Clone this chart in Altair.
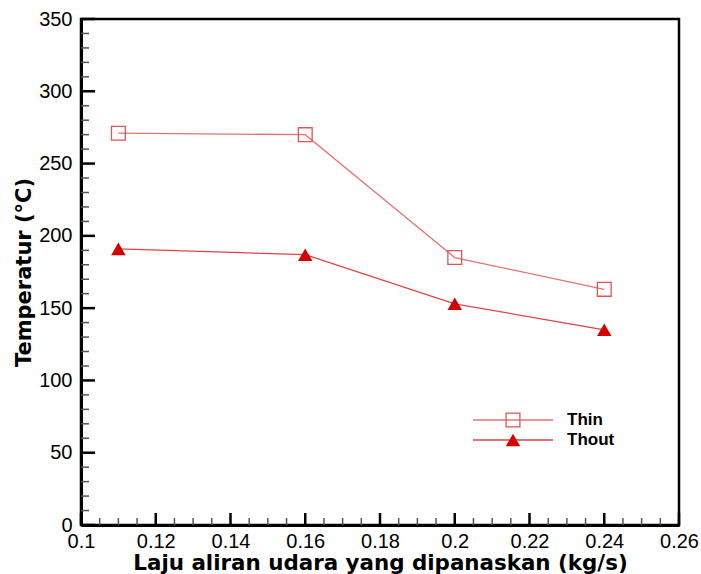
import altair as alt
import pandas as pd

# ---- data ----
flow = [0.11, 0.16, 0.20, 0.24]
thin = [271, 270, 185, 163]
thout = [191, 187, 153, 135]
series_names = ["Thin", "Thout"]

x_major_ticks = [0.10, 0.12, 0.14, 0.16, 0.18, 0.20, 0.22, 0.24, 0.26]
x_minor_ticks = [0.105, 0.11, 0.115, 0.125, 0.13, 0.135, 0.145, 0.15, 0.155,
                 0.165, 0.17, 0.175, 0.185, 0.19, 0.195, 0.205, 0.21, 0.215,
                 0.225, 0.23, 0.235, 0.245, 0.25, 0.255]
y_major_ticks = [0, 50, 100, 150, 200, 250, 300, 350]
y_minor_ticks = [v for v in range(0, 351, 10) if v % 50 != 0]

x_title = "Laju aliran udara yang dipanaskan (kg/s)"
y_title = "Temperatur (°C)"

W, H = 598, 506
FONT = "Liberation Sans"
TFONT = "DejaVu Sans"

df = pd.DataFrame({
    "flow": flow * 2,
    "temp": thin + thout,
    "series": [series_names[0]] * len(flow) + [series_names[1]] * len(flow),
})
df_thin = df[df.series == "Thin"]
df_thout = df[df.series == "Thout"]

xs = alt.Scale(domain=[0.1, 0.26], nice=False, zero=False)
ys = alt.Scale(domain=[0, 350], nice=False)

x_axis = alt.Axis(values=x_major_ticks, format="~g", ticks=False, grid=False,
                  labelFontSize=20, labelFont=FONT, labelColor="black",
                  labelPadding=6, labelFlush=False, labelOverlap=False, labelBound=False,
                  domainColor="black", domainWidth=3,
                  title=x_title, titleFont=TFONT, titleFontSize=21.4, titleFontWeight="bold",
                  titleColor="black", titlePadding=1)
y_axis = alt.Axis(values=y_major_ticks, ticks=False, grid=False,
                  labelFontSize=20, labelFont=FONT, labelColor="black",
                  labelPadding=9, labelFlush=False, labelOverlap=False, labelBound=False,
                  domainColor="black", domainWidth=3,
                  title=y_title, titleFont=TFONT, titleFontSize=21, titleFontWeight="bold",
                  titleColor="black", titlePadding=4)

# axes carrier (invisible)
base = alt.Chart(df).mark_point(opacity=0).encode(
    x=alt.X("flow:Q", scale=xs, axis=x_axis),
    y=alt.Y("temp:Q", scale=ys, axis=y_axis),
)

# inward ticks
def xticks(vals, length, color, width):
    return alt.Chart(pd.DataFrame({"v": vals})).mark_rule(color=color, strokeWidth=width).encode(
        x=alt.X("v:Q", scale=xs), y=alt.value(H), y2=alt.value(H - length))

def yticks(vals, length, color, width):
    return alt.Chart(pd.DataFrame({"v": vals})).mark_rule(color=color, strokeWidth=width).encode(
        y=alt.Y("v:Q", scale=ys), x=alt.value(0), x2=alt.value(length))

tick_layers = [
    xticks(x_minor_ticks, 7, "#555555", 1.5),
    xticks(x_major_ticks, 12, "black", 2.5),
    yticks(y_minor_ticks, 8, "#555555", 1.5),
    yticks(y_major_ticks, 14, "black", 2.5),
]

thin_line = alt.Chart(df_thin).mark_line(color="#e57373", strokeWidth=1.3).encode(
    x=alt.X("flow:Q", scale=xs), y=alt.Y("temp:Q", scale=ys))
thin_pts = alt.Chart(df_thin).mark_point(shape="square", size=190, filled=False,
                                          color="#dd5555", strokeWidth=1.3, opacity=1).encode(
    x=alt.X("flow:Q", scale=xs), y=alt.Y("temp:Q", scale=ys))
thout_line = alt.Chart(df_thout).mark_line(color="#dd4444", strokeWidth=1.3).encode(
    x=alt.X("flow:Q", scale=xs), y=alt.Y("temp:Q", scale=ys))
thout_pts = alt.Chart(df_thout).mark_point(shape="triangle-up", size=210, filled=True,
                                            color="#d40000", opacity=1).encode(
    x=alt.X("flow:Q", scale=xs), y=alt.Y("temp:Q", scale=ys))

# legend (drawn in pixel space)
leg_rows = [401, 421]
leg_layers = []
leg_df = pd.DataFrame({"series": series_names})
for i, name in enumerate(series_names):
    d = leg_df[leg_df.series == name]
    col = "#e57373" if i == 0 else "#dd4444"
    leg_layers.append(alt.Chart(d).mark_rule(color=col, strokeWidth=1.3).encode(
        x=alt.value(392), x2=alt.value(472), y=alt.value(leg_rows[i])))
    if i == 0:
        leg_layers.append(alt.Chart(d).mark_point(shape="square", size=190, filled=False,
                                                 color="#dd5555", strokeWidth=1.3, opacity=1).encode(
            x=alt.value(432), y=alt.value(leg_rows[i])))
    else:
        leg_layers.append(alt.Chart(d).mark_point(shape="triangle-up", size=210, filled=True,
                                                 color="#d40000", opacity=1).encode(
            x=alt.value(432), y=alt.value(leg_rows[i])))
    leg_layers.append(alt.Chart(d).mark_text(align="left", baseline="middle", font=FONT,
                                            fontSize=17, fontWeight="bold", color="black").encode(
        x=alt.value(486), y=alt.value(leg_rows[i]), text="series:N"))

chart = alt.layer(base, *tick_layers, thin_line, thout_line, thin_pts, thout_pts, *leg_layers).properties(
    width=W, height=H,
    autosize=alt.AutoSizeParams(type="none"),
    padding={"left": 81, "top": 19, "right": 22, "bottom": 49},
    background="white",
).configure_view(stroke="black", strokeWidth=2.5)

chart.save("out.html", embed_options={"renderer": "svg", "actions": False})
